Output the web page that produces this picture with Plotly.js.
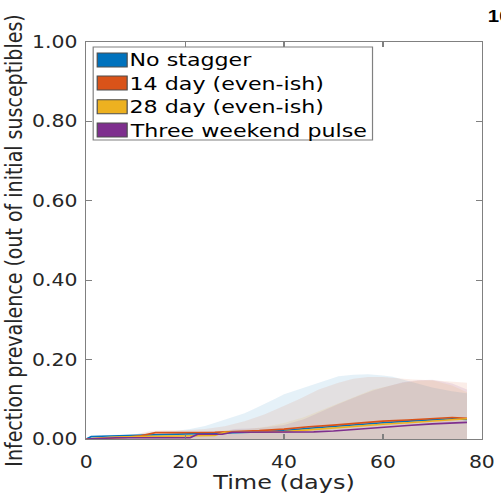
<!DOCTYPE html>
<html>
<head>
<meta charset="utf-8">
<script src="https://cdn.plot.ly/plotly-3.0.1.min.js"></script>
<style>
html,body{margin:0;padding:0;overflow:hidden;background:#fff;}
#chart{width:418px;height:494px;transform:scaleX(1.1986);transform-origin:0 0;}
</style>
</head>
<body>
<div id="chart"></div>
<script>
// Series names
const seriesNames = ['No stagger', '14 day (even-ish)', '28 day (even-ish)', 'Three weekend pulse'];

// Median prevalence lines
const blueX = [0,1,3,6,10,12,14,18,22,26,30,35,40,45,50,55,60,65,70,74,77];
const blueY = [0,0.006,0.007,0.008,0.008,0.009,0.010,0.011,0.012,0.013,0.016,0.018,0.021,0.027,0.032,0.037,0.041,0.045,0.048,0.051,0.049];

const orangeX = [0,3,8,11,13,14,18,22,26,30,35,40,45,50,55,60,65,70,74,77];
const orangeY = [0,0.002,0.004,0.008,0.013,0.016,0.016,0.016,0.017,0.019,0.021,0.025,0.031,0.035,0.040,0.045,0.048,0.051,0.054,0.052];

const yellowX = [0,5,10,15,20,26,27,28,30,35,40,45,50,55,60,65,70,74,77];
const yellowY = [0,0.004,0.006,0.007,0.008,0.009,0.013,0.017,0.017,0.018,0.019,0.023,0.028,0.033,0.037,0.041,0.045,0.049,0.051];

const purpleX = [0,3,6,10,15,21,22.5,27.5,29.5,35,40,46,50,53,57,60,65,70,74,77];
const purpleY = [0,0.002,0.003,0.003,0.003,0.003,0.012,0.012,0.017,0.017,0.017,0.018,0.020,0.023,0.027,0.030,0.034,0.038,0.041,0.042];

// Upper edges of the shaded uncertainty bands (lower edge at 0)
const blueBandX = [0,2,5,10,14,18,21,24,27,29,32,34,36,38,40,43,46,49,51,54,57,60,62,64,67,70,74,77];
const blueBandY = [0.003,0.008,0.010,0.012,0.018,0.020,0.025,0.033,0.045,0.053,0.065,0.076,0.087,0.100,0.113,0.125,0.137,0.150,0.158,0.162,0.163,0.160,0.157,0.150,0.140,0.130,0.120,0.115];

const orangeBandX = [0,5,10,13,16,20,24,28,32,36,39,43,47,51,54,57,60,63,66,70,74,77];
const orangeBandY = [0.002,0.006,0.012,0.020,0.022,0.022,0.025,0.032,0.045,0.062,0.078,0.100,0.125,0.142,0.152,0.156,0.156,0.153,0.150,0.148,0.145,0.142];

const yellowBandX = [0,10,20,26,28,32,36,40,44,47,51,55,58,61,64,67,70,74,77];
const yellowBandY = [0.002,0.010,0.012,0.015,0.022,0.024,0.030,0.040,0.055,0.070,0.090,0.111,0.125,0.133,0.142,0.147,0.148,0.135,0.118];

const purpleBandX = [0,10,21,23,28,30,35,40,44,47,51,55,58,61,64,67,70,74,77];
const purpleBandY = [0.002,0.006,0.008,0.018,0.020,0.025,0.028,0.035,0.050,0.067,0.088,0.108,0.122,0.133,0.143,0.148,0.149,0.140,0.125];

// Axis ticks
const xTicks = [0,20,40,60,80];
const yTicks = [0,0.2,0.4,0.6,0.8,1.0];
const yTickText = ['0.00','0.20','0.40','0.60','0.80','1.00'];

const colors = ['#0072BD','#D95319','#EDB120','#7E2F8E'];
const bandColors = ['rgba(0,114,189,0.10)','rgba(217,83,25,0.10)','rgba(237,177,32,0.10)','rgba(126,47,142,0.10)'];

const lineX = [blueX, orangeX, yellowX, purpleX];
const lineY = [blueY, orangeY, yellowY, purpleY];
const bandX = [blueBandX, orangeBandX, yellowBandX, purpleBandX];
const bandY = [blueBandY, orangeBandY, yellowBandY, purpleBandY];

const traces = [];
for (let i = 0; i < 4; i++) {
  traces.push({
    type: 'scatter', mode: 'lines', x: bandX[i], y: bandY[i],
    fill: 'tozeroy', fillcolor: bandColors[i], line: {width: 0, color: bandColors[i]},
    showlegend: false, hoverinfo: 'skip', name: seriesNames[i] + ' range'
  });
}
for (let i = 0; i < 4; i++) {
  traces.push({
    type: 'scatter', mode: 'lines', x: lineX[i], y: lineY[i],
    line: {color: colors[i], width: 1.6}, showlegend: false, name: seriesNames[i]
  });
}

const fontFam = 'DejaVu Sans, sans-serif';

// Legend box drawn in paper coordinates (plot area: 330 x 397 px before horizontal stretch)
const legBox = {x0: 0.0174, x1: 0.7236, y0: 0.7531, y1: 0.9874};
const legRowY = [0.9547, 0.8967, 0.8370, 0.7783];
const shapes = [{
  type: 'rect', xref: 'paper', yref: 'paper', x0: legBox.x0, x1: legBox.x1, y0: legBox.y0, y1: legBox.y1,
  line: {color: '#808080', width: 1}, fillcolor: '#ffffff', layer: 'above'
}];
const annotations = [];
for (let i = 0; i < 4; i++) {
  shapes.push({
    type: 'rect', xref: 'paper', yref: 'paper', x0: 0.0276, x1: 0.1033,
    y0: legRowY[i] - 0.0176, y1: legRowY[i] + 0.0176,
    line: {color: '#4d4d4d', width: 1}, fillcolor: colors[i], layer: 'above'
  });
  annotations.push({
    xref: 'paper', yref: 'paper', x: 0.104, y: legRowY[i], xanchor: 'left', yanchor: 'middle',
    text: seriesNames[i], showarrow: false, font: {family: fontFam, size: 18.5, color: '#000'}
  });
}
annotations.push({
  xref: 'paper', yref: 'paper', x: 1.008, y: 1.063, xanchor: 'left', yanchor: 'middle',
  text: '<b>10</b>', showarrow: false, font: {family: 'Liberation Sans, Arial, sans-serif', size: 17, color: '#000'}
});

const layout = {
  width: 418, height: 494,
  margin: {l: 72, r: 16, t: 42, b: 55, pad: 0},
  paper_bgcolor: '#fff', plot_bgcolor: '#fff',
  font: {family: fontFam, color: '#262626', size: 17},
  showlegend: false,
  xaxis: {
    range: [0, 80], tickvals: xTicks, ticktext: xTicks.map(String),
    ticks: 'inside', ticklen: 5, tickcolor: '#808080', tickwidth: 1,
    showline: true, linecolor: '#808080', linewidth: 1, mirror: 'ticks',
    showgrid: false, zeroline: false, ticklabelstandoff: 8,
    tickfont: {family: fontFam, size: 17, color: '#262626'},
    title: {text: 'Time (days)', font: {family: fontFam, size: 20, color: '#262626'}, standoff: 8}
  },
  yaxis: {
    range: [0, 1], tickvals: yTicks, ticktext: yTickText,
    ticks: 'inside', ticklen: 5, tickcolor: '#808080', tickwidth: 1,
    showline: true, linecolor: '#808080', linewidth: 1, mirror: 'ticks',
    showgrid: false, zeroline: false, ticklabelstandoff: 3,
    tickfont: {family: fontFam, size: 17, color: '#262626'},
    title: {text: 'Infection prevalence (out of initial susceptibles)', font: {family: fontFam, size: 19, color: '#262626'}, standoff: 2}
  },
  shapes: shapes,
  annotations: annotations
};

Plotly.newPlot('chart', traces, layout, {displayModeBar: false, staticPlot: true});
</script>
</body>
</html>
